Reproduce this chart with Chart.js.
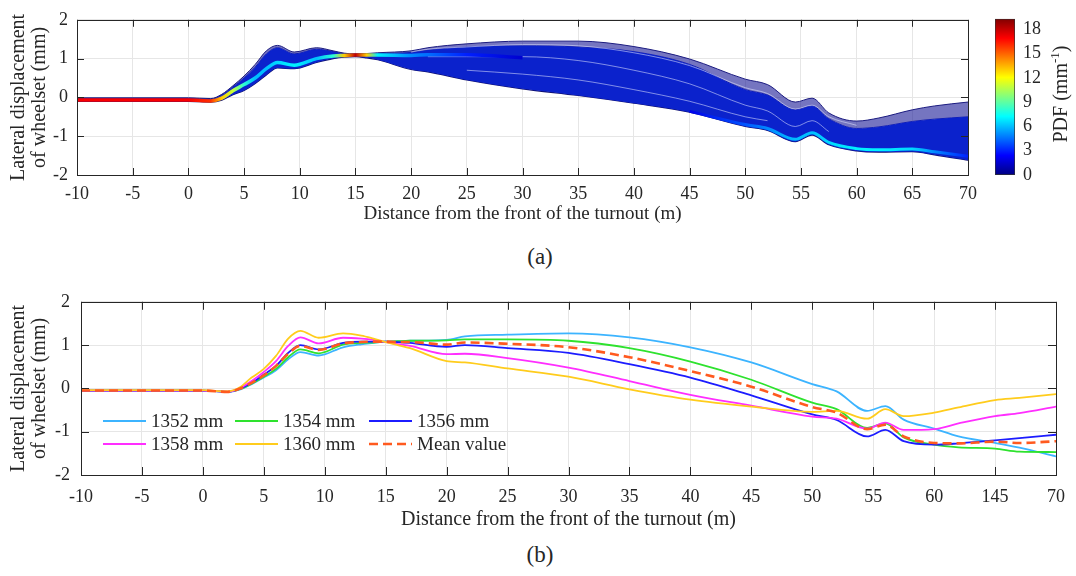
<!DOCTYPE html>
<html>
<head>
<meta charset="utf-8">
<script src="https://cdn.jsdelivr.net/npm/chart.js@4.4.1/dist/chart.umd.min.js"></script>
<style>
  body { margin: 0; background: #fff; }
  #wrap { position: relative; width: 1076px; height: 576px; overflow: hidden;
          font-family: "Liberation Serif", "Times New Roman", serif; color: #262626; }
  canvas { position: absolute; }
  .cap { position: absolute; width: 80px; text-align: center; font-size: 23px; line-height: 26px; }
  #pdfTitle { position: absolute; left: 1000px; top: 82px; width: 120px; text-align: center;
              font-size: 20px; line-height: 24px; transform: rotate(-90deg); white-space: nowrap; }
  #pdfTitle sup { font-size: 13px; vertical-align: 8px; line-height: 0; }
  #legendB { position: absolute; left: 103px; top: 409px; display: grid;
             grid-template-columns: 132px 134px auto; grid-auto-rows: 23px; font-size: 19px; }
  #legendB .item { display: flex; align-items: center; white-space: nowrap; }
  #legendB svg { margin-right: 5px; }
</style>
</head>
<body>
<div id="wrap">
  <canvas id="chartA" width="985" height="232" style="left:0;top:0"></canvas>
  <canvas id="chartBar" width="91" height="232" style="left:985px;top:0"></canvas>
  <div id="pdfTitle">PDF (mm<sup>-1</sup>)</div>
  <div class="cap" style="left:500px;top:244px">(a)</div>
  <canvas id="chartB" width="1076" height="256" style="left:0;top:280px"></canvas>
  <div id="legendB"></div>
  <div class="cap" style="left:500px;top:542px">(b)</div>
</div>
<script>
// ==================== DATA ====================
// distance along the turnout (m), shared by every series
const xs = [-10, 0, 2, 3, 4, 5, 6, 7, 8, 9.5, 11.5, 13, 14, 15, 16, 17, 20, 21.5, 25, 30, 35, 40, 45, 50, 52, 54.5, 56, 57.5, 60, 62, 65, 67, 70];

// (a) bundle of simulated wheelsets: outer edge, top of the dense part, lower edge
const upperA    = [-0.01, -0.01, -0.03, 0.08, 0.30, 0.55, 0.85, 1.20, 1.34, 1.17, 1.28, 1.20, 1.14, 1.12, 1.13, 1.15, 1.20, 1.28, 1.38, 1.45, 1.45, 1.31, 0.99, 0.47, 0.33, -0.12, -0.02, -0.40, -0.61, -0.53, -0.32, -0.22, -0.12];
const denseTopA = [-0.03, -0.03, -0.05, 0.06, 0.27, 0.50, 0.78, 1.12, 1.28, 1.12, 1.24, 1.18, 1.12, 1.11, 1.12, 1.13, 1.16, 1.22, 1.30, 1.33, 1.30, 1.18, 0.85, 0.20, 0.06, -0.32, -0.22, -0.55, -0.80, -0.76, -0.62, -0.56, -0.50];
const lowerA    = [-0.10, -0.10, -0.12, -0.07, 0.07, 0.18, 0.36, 0.58, 0.76, 0.74, 0.90, 1.00, 1.04, 1.05, 1.02, 0.97, 0.72, 0.66, 0.45, 0.22, 0.05, -0.15, -0.38, -0.75, -0.85, -1.14, -0.97, -1.22, -1.38, -1.41, -1.40, -1.48, -1.62];
// (a) light gaps between groups of curves inside the bundle
const gapA1 = [null, null, null, null, null, null, null, null, null, null, null, null, null, null, null, null, 1.17, 1.24, 1.30, 1.36, 1.33, 1.15, 0.82, 0.25, 0.10, -0.30, -0.20, -0.50, -0.72, null, null, null, null];
const gapA2 = [null, null, null, null, null, null, null, null, null, null, null, null, null, null, null, null, null, 1.05, 1.05, 1.05, 0.95, 0.70, 0.35, -0.20, -0.35, -0.75, -0.60, -0.88, null, null, null, null, null];
const gapA3 = [null, null, null, null, null, null, null, null, null, null, null, null, null, null, null, null, null, null, 0.70, 0.60, 0.45, 0.20, -0.10, -0.50, -0.60, null, null, null, null, null, null, null, null];
// (a) highest-density paths and the PDF read along them
const coreA     = [-0.07, -0.07, -0.09, -0.02, 0.17, 0.33, 0.50, 0.74, 0.90, 0.83, 1.00, 1.07, 1.08, 1.09, 1.09, 1.09, 1.08, 1.10, 1.10, 1.02, null, null, null, null, null, null, null, null, null, null, null, null, null];
const corePdfA  = [17, 17, 16, 13, 11, 8, 6, 6, 6.5, 7, 6, 8, 13, 18, 13, 7, 5, 4.5, 3, 1.5, null, null, null, null, null, null, null, null, null, null, null, null, null];
const edgeA     = [null, null, null, null, null, null, null, null, null, null, null, null, null, null, null, null, null, null, null, null, null, null, -0.36, -0.70, -0.80, -1.08, -0.91, -1.16, -1.32, -1.35, -1.33, -1.40, -1.52];
const edgePdfA  = [null, null, null, null, null, null, null, null, null, null, null, null, null, null, null, null, null, null, null, null, null, null, 2, 4, 5, 6, 6, 6.5, 7, 7, 6.5, 5, 3];

// (b) track gauges
const gaugeNames = ['1352 mm', '1354 mm', '1356 mm', '1358 mm', '1360 mm', 'Mean value'];
const g1352 = [-0.05, -0.05, -0.08, -0.03, 0.10, 0.25, 0.42, 0.67, 0.84, 0.76, 0.95, 1.02, 1.05, 1.08, 1.09, 1.10, 1.12, 1.20, 1.24, 1.27, 1.18, 0.95, 0.60, 0.10, -0.07, -0.52, -0.41, -0.72, -0.93, -1.11, -1.26, -1.37, -1.57];
const g1354 = [-0.05, -0.05, -0.08, -0.02, 0.11, 0.27, 0.45, 0.72, 0.90, 0.81, 1.01, 1.05, 1.06, 1.08, 1.09, 1.10, 1.11, 1.13, 1.13, 1.10, 0.93, 0.62, 0.20, -0.33, -0.48, -0.91, -0.81, -1.13, -1.30, -1.36, -1.39, -1.46, -1.47];
const g1356 = [-0.05, -0.05, -0.08, -0.01, 0.13, 0.32, 0.52, 0.82, 1.00, 0.90, 1.05, 1.08, 1.08, 1.08, 1.07, 1.05, 0.96, 1.00, 0.93, 0.82, 0.56, 0.25, -0.16, -0.60, -0.73, -1.11, -0.96, -1.22, -1.30, -1.27, -1.20, -1.15, -1.07];
const g1358 = [-0.05, -0.05, -0.08, 0.00, 0.17, 0.38, 0.63, 0.98, 1.18, 1.04, 1.17, 1.15, 1.12, 1.07, 1.02, 0.98, 0.79, 0.80, 0.70, 0.48, 0.17, -0.15, -0.40, -0.65, -0.70, -0.93, -0.79, -0.96, -0.94, -0.81, -0.64, -0.57, -0.42];
const g1360 = [-0.04, -0.04, -0.07, 0.02, 0.25, 0.45, 0.75, 1.15, 1.33, 1.17, 1.27, 1.22, 1.15, 1.07, 1.00, 0.93, 0.63, 0.60, 0.46, 0.27, -0.02, -0.26, -0.42, -0.54, -0.52, -0.70, -0.48, -0.64, -0.56, -0.44, -0.27, -0.22, -0.13];
const meanValue = [-0.05, -0.05, -0.08, -0.01, 0.13, 0.30, 0.52, 0.80, 0.98, 0.89, 1.04, 1.07, 1.08, 1.08, 1.07, 1.07, 1.01, 1.06, 1.03, 0.95, 0.72, 0.40, 0.04, -0.43, -0.56, -0.94, -0.84, -1.11, -1.26, -1.27, -1.23, -1.26, -1.22];

// axes
const xTicks = [-10, -5, 0, 5, 10, 15, 20, 25, 30, 35, 40, 45, 50, 55, 60, 65, 70];
const xTickLabelsA = ['-10', '-5', '0', '5', '10', '15', '20', '25', '30', '35', '40', '45', '50', '55', '60', '65', '70'];
const xTickLabelsB = ['-10', '-5', '0', '5', '10', '15', '20', '25', '30', '35', '40', '45', '50', '55', '60', '145', '70'];
const yTicks = [-2, -1, 0, 1, 2];
const pdfTicks = [0, 3, 6, 9, 12, 15, 18];
const pdfMax = 19.3;

// ==================== UTILS ====================
const FONT = '"Liberation Serif", "Times New Roman", serif';
const INK = '#262626';
const pts = (ys) => xs.map((x, i) => ({ x, y: ys[i] }));

// MATLAB jet colormap
const jet = (v) => {
  const t = Math.max(0, Math.min(1, v / pdfMax));
  const c = (k) => Math.round(255 * Math.max(0, Math.min(1, 1.5 - Math.abs(4 * t - k))));
  return `rgb(${c(3)},${c(2)},${c(1)})`;
};

// horizontal gradient following the PDF read along a path
const pdfStroke = (ys, pdf) => (ctx) => {
  const chart = ctx.chart, area = chart.chartArea;
  if (!area) return jet(0);
  const sx = chart.scales.x;
  const g = chart.ctx.createLinearGradient(area.left, 0, area.right, 0);
  xs.forEach((x, i) => {
    if (ys[i] == null) return;
    const p = (sx.getPixelForValue(x) - area.left) / (area.right - area.left);
    g.addColorStop(Math.max(0, Math.min(1, p)), jet(pdf[i]));
  });
  return g;
};

// box + inward ticks on all four sides
const matlabFrame = {
  id: 'matlabFrame',
  afterDatasetsDraw(chart, args, opts) {
    const { ctx, chartArea: a, scales: { x, y } } = chart;
    const len = opts.len || 7;
    ctx.save();
    ctx.strokeStyle = INK;
    ctx.lineWidth = 1;
    ctx.beginPath();
    x.ticks.forEach(t => {
      const px = Math.round(x.getPixelForValue(t.value)) + 0.5;
      ctx.moveTo(px, a.bottom); ctx.lineTo(px, a.bottom - len);
      ctx.moveTo(px, a.top); ctx.lineTo(px, a.top + len);
    });
    y.ticks.forEach(t => {
      const py = Math.round(y.getPixelForValue(t.value)) + 0.5;
      ctx.moveTo(a.left, py); ctx.lineTo(a.left + len, py);
      ctx.moveTo(a.right, py); ctx.lineTo(a.right - len, py);
    });
    ctx.stroke();
    ctx.strokeRect(Math.round(a.left) + 0.5, Math.round(a.top) + 0.5, Math.round(a.right - a.left), Math.round(a.bottom - a.top));
    ctx.restore();
  }
};

const panelOptions = (c) => ({
  responsive: false,
  animation: false,
  devicePixelRatio: 1,
  layout: { padding: c.pad },
  elements: { point: { radius: 0 }, line: { cubicInterpolationMode: 'monotone' } },
  plugins: { legend: { display: false }, tooltip: { enabled: false }, matlabFrame: { len: c.tickLen } },
  scales: {
    x: {
      type: 'linear', min: -10, max: 70,
      afterBuildTicks: (s) => { s.ticks = xTicks.map(v => ({ value: v })); },
      afterFit: (s) => { s.height = c.xh; },
      grid: { color: '#e6e6e6', drawTicks: false },
      border: { display: false },
      ticks: { color: INK, font: { family: FONT, size: 18 }, padding: c.xPad, maxRotation: 0, autoSkip: false,
               callback: (v, i) => c.labels[i] },
      title: { display: true, text: 'Distance from the front of the turnout (m)', color: INK,
               font: { family: FONT, size: c.titleSize, lineHeight: 1.1 }, padding: { top: 0, bottom: c.titlePad } }
    },
    y: {
      type: 'linear', min: -2, max: 2,
      afterBuildTicks: (s) => { s.ticks = yTicks.map(v => ({ value: v })); },
      afterFit: (s) => { s.width = c.yw; },
      grid: { color: '#e6e6e6', drawTicks: false },
      border: { display: false },
      ticks: { color: INK, font: { family: FONT, size: 18 }, padding: c.yPad, callback: (v) => String(v) },
      title: { display: true, text: ['Lateral displacement', 'of wheelset (mm)'], color: INK,
               font: { family: FONT, size: 20, lineHeight: 1.05 }, padding: { top: 8, bottom: 0 } }
    }
  }
});

// ==================== PANEL (a) ====================
const gapStyle = { borderColor: 'rgba(225,230,255,0.55)', borderWidth: 1 };

new Chart(document.getElementById('chartA'), {
  type: 'line',
  data: {
    datasets: [
      { data: pts(coreA), borderColor: pdfStroke(coreA, corePdfA), borderWidth: 3.5 },
      { data: pts(edgeA), borderColor: pdfStroke(edgeA, edgePdfA), borderWidth: 3 },
      { data: pts(gapA1), ...gapStyle },
      { data: pts(gapA2), ...gapStyle },
      { data: pts(gapA3), ...gapStyle },
      { data: pts(upperA), borderColor: '#1c1c80', borderWidth: 1, fill: '+1', backgroundColor: 'rgba(25,25,150,0.6)' },
      { data: pts(denseTopA), borderColor: '#0b22cc', borderWidth: 1, fill: '+1', backgroundColor: '#0b22cc' },
      { data: pts(lowerA), borderColor: '#10106e', borderWidth: 1.2 }
    ]
  },
  options: panelOptions({ pad: { top: 12, right: 15, bottom: 0, left: 0 }, xh: 57, yw: 77, xPad: 8, yPad: 9,
                          tickLen: 7, titleSize: 19, titlePad: 8, labels: xTickLabelsA }),
  plugins: [matlabFrame]
});

// colour bar
new Chart(document.getElementById('chartBar'), {
  type: 'bar',
  data: { labels: ['PDF'], datasets: [{
    data: [pdfMax],
    barPercentage: 1, categoryPercentage: 1,
    borderWidth: 1, borderColor: '#333', borderSkipped: false,
    backgroundColor: (ctx) => {
      const a = ctx.chart.chartArea;
      if (!a) return jet(0);
      const g = ctx.chart.ctx.createLinearGradient(0, a.bottom, 0, a.top);
      for (let k = 0; k <= 8; k++) g.addColorStop(k / 8, jet(pdfMax * k / 8));
      return g;
    }
  }] },
  options: {
    responsive: false, animation: false, devicePixelRatio: 1,
    layout: { padding: { top: 12, right: 0, bottom: 57, left: 10 } },
    plugins: { legend: { display: false }, tooltip: { enabled: false } },
    scales: {
      x: { display: false },
      y: {
        position: 'right', min: 0, max: pdfMax,
        afterBuildTicks: (s) => { s.ticks = pdfTicks.map(v => ({ value: v })); },
        afterFit: (s) => { s.width = 61; },
        grid: { display: false, drawTicks: false },
        border: { display: false },
        ticks: { color: INK, font: { family: FONT, size: 18 }, padding: 8 }
      }
    }
  }
});

// ==================== PANEL (b) ====================
const gaugeSeries = [g1352, g1354, g1356, g1358, g1360, meanValue];
const gaugeColors = ['#3cb4ff', '#2ee22e', '#1c1cff', '#ff2eff', '#ffcc1c', '#ff5a1f'];
const gaugeDash = [[], [], [], [], [], [9, 5]];

new Chart(document.getElementById('chartB'), {
  type: 'line',
  data: {
    datasets: gaugeSeries.map((s, i) => ({
      label: gaugeNames[i], data: pts(s), borderColor: gaugeColors[i],
      borderWidth: i === 5 ? 2.6 : 1.8, borderDash: gaugeDash[i]
    })).reverse()
  },
  options: panelOptions({ pad: { top: 15, right: 14, bottom: 0, left: 0 }, xh: 61, yw: 81, xPad: 11, yPad: 11,
                          tickLen: 8, titleSize: 20, titlePad: 5, labels: xTickLabelsB }),
  plugins: [matlabFrame]
});

// legend, 3 columns x 2 rows, no box
const legend = document.getElementById('legendB');
gaugeNames.forEach((name, i) => {
  const item = document.createElement('div');
  item.className = 'item';
  const dash = gaugeDash[i].length ? `stroke-dasharray="${gaugeDash[i].join(',')}"` : '';
  item.innerHTML = `<svg width="43" height="6"><line x1="0" y1="3" x2="43" y2="3" stroke="${gaugeColors[i]}" stroke-width="${i === 5 ? 2.6 : 2}" ${dash}/></svg><span>${name}</span>`;
  legend.appendChild(item);
});
</script>
</body>
</html>
